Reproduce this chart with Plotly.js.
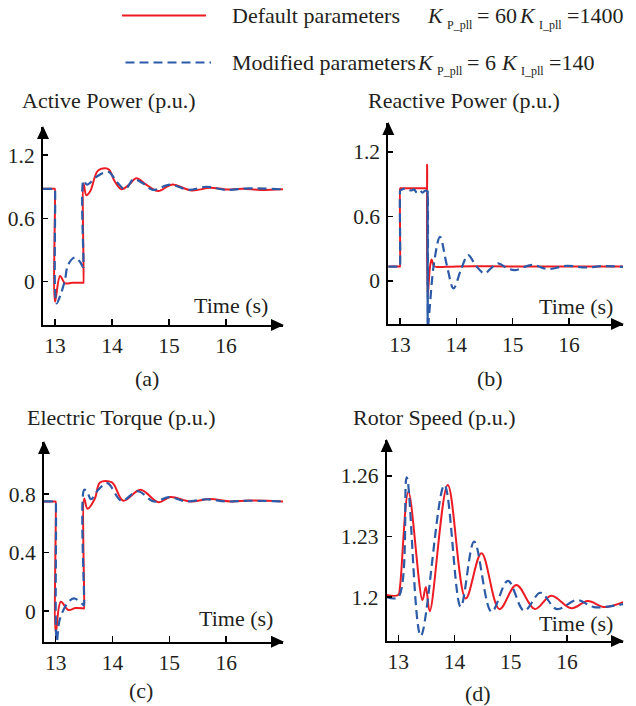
<!DOCTYPE html>
<html>
<head>
<meta charset="utf-8">
<script src="https://cdn.plot.ly/plotly-3.0.1.min.js"></script>
<style>html,body{margin:0;padding:0;background:#fff}#chart{width:636px;height:706px}</style>
</head>
<body>
<div id="chart"></div>
<script>
// ---------- DATA ----------
// (a) Active power
const tA_def = [12.79,12.999,13.0,13.001,13.09,13.175,13.3,13.49,13.499,13.5,13.502,13.55,13.62,13.75,13.88,13.95,14.05,14.17,14.3,14.43,14.6,14.81,15.05,15.4,15.72,16.0,16.3,16.6,17.0];
const pA_def = [0.88,0.88,0.88,-0.19,0.055,-0.015,-0.01,-0.01,-0.01,-0.01,0.93,0.82,0.86,1.05,1.075,1.06,0.95,0.876,0.92,0.98,0.92,0.86,0.92,0.865,0.89,0.875,0.88,0.87,0.877];
const tA_mod = [12.79,12.999,13.0,13.003,13.03,13.1,13.175,13.23,13.35,13.45,13.49,13.499,13.5,13.502,13.56,13.73,13.94,14.08,14.23,14.38,14.55,14.72,15.02,15.35,15.65,16.0,16.4,17.0];
const pA_mod = [0.88,0.88,0.88,-0.1,-0.205,-0.12,0.016,0.16,0.23,0.18,0.14,0.14,0.14,0.96,0.92,0.995,1.04,0.95,0.876,0.97,0.93,0.87,0.92,0.87,0.9,0.87,0.885,0.875];
// (b) Reactive power
const tB_def = [12.79,12.999,13.0,13.001,13.002,13.47,13.479,13.48,13.481,13.49,13.53,13.56,13.6,13.65,14.0,15.0,17.0];
const qB_def = [0.133,0.133,0.133,0.86,0.86,0.86,0.86,0.86,1.08,-0.15,0.12,0.2,0.14,0.13,0.135,0.135,0.135];
// the modified series swings several times between ~0.83 and the bottom at t≈13.49 (drawn as a solid bar in the reference)
const tB_mod = [12.79,12.999,13.0,13.001,13.002,13.1,13.2,13.25,13.3,13.35,13.4,13.45,13.485,13.489,13.49,13.4905,13.491,13.4915,13.492,13.4925,13.493,13.52,13.6,13.71,13.83,13.95,14.08,14.21,14.35,14.5,14.62,14.74,14.9,15.04,15.34,15.63,15.95,16.3,16.6,17.0];
const qB_mod = [0.133,0.133,0.133,0.84,0.84,0.86,0.84,0.85,0.82,0.84,0.82,0.84,0.83,0.83,0.83,-0.45,0.83,-0.45,0.83,-0.45,-0.45,-0.3,0.15,0.41,0.15,-0.07,0.1,0.24,0.14,0.07,0.12,0.164,0.12,0.1,0.15,0.11,0.14,0.125,0.138,0.13];
// (c) Electric torque
const tC_def = [12.79,12.999,13.0,13.001,13.09,13.22,13.35,13.49,13.499,13.5,13.502,13.56,13.69,13.78,13.99,14.19,14.49,14.81,15.02,15.37,15.72,16.08,16.4,17.0];
const eC_def = [0.75,0.75,0.75,-0.15,0.064,0.007,0.02,0.018,0.018,0.018,0.77,0.70,0.77,0.88,0.88,0.755,0.83,0.745,0.78,0.75,0.767,0.75,0.757,0.75];
const tC_mod = [12.79,12.999,13.0,13.003,13.02,13.07,13.2,13.32,13.46,13.49,13.499,13.5,13.502,13.56,13.62,13.75,13.91,14.16,14.44,14.73,15.0,15.3,15.65,16.0,16.4,17.0];
const eC_mod = [0.75,0.75,0.75,-0.1,-0.21,-0.06,0.05,0.087,0.05,0.04,0.04,0.04,0.83,0.81,0.765,0.83,0.875,0.755,0.82,0.75,0.78,0.75,0.765,0.75,0.755,0.75];
// (d) Rotor speed
const tD_def = [12.79,13.0,13.03,13.18,13.43,13.49,13.56,13.88,14.2,14.48,14.8,15.1,15.43,15.72,16.08,16.37,16.67,17.0];
const wD_def = [1.201,1.201,1.205,1.252,1.1985,1.205,1.193,1.2555,1.1993,1.2217,1.194,1.206,1.194,1.2006,1.1944,1.198,1.195,1.1974];
const tD_mod = [12.79,13.0,13.15,13.4,13.82,14.11,14.35,14.66,14.95,15.24,15.53,15.82,16.18,16.48,17.0];
const wD_mod = [1.2,1.2,1.2593,1.1807,1.2555,1.1952,1.2275,1.1927,1.208,1.1932,1.2021,1.194,1.1985,1.195,1.1965];

// tick labels
const xTickVals = [13,14,15,16];
const xTickText = ['13','14','15','16'];
const yTickValsA = [0,0.6,1.2];  const yTickTextA = ['0','0.6','1.2'];
const yTickValsB = [0,0.6,1.2];  const yTickTextB = ['0','0.6','1.2'];
const yTickValsC = [0,0.4,0.8];  const yTickTextC = ['0','0.4','0.8'];
const yTickValsD = [1.2,1.23,1.26]; const yTickTextD = ['1.2','1.23','1.26'];

const panelTitles = ['Active Power (p.u.)','Reactive Power (p.u.)','Electric Torque (p.u.)','Rotor Speed (p.u.)'];
const panelLabels = ['(a)','(b)','(c)','(d)'];
const xTitle = 'Time (s)';
const seriesNames = ['Default parameters','Modified parameters'];
// legend parameter text pieces: [symbol, subscript, value]
const paramDef = [['K','P_pll','= 60'],['K','I_pll','=1400']];
const paramMod = [['K','P_pll','= 6'],['K','I_pll','=140']];

// ---------- STYLE ----------
const W = 636, H = 706;
const FONT = 'Liberation Serif, Times New Roman, serif';
const TXT = '#231f20';
const RED = '#ed1c24', BLUE = '#2b5ba8';
const DASH = '9px,5px';
const px = v => v / W, py = v => 1 - v / H;

const traces = [];
function addPair(tDef, yDef, tMod, yMod, ax) {
  const xa = 'x' + (ax === 1 ? '' : ax), ya = 'y' + (ax === 1 ? '' : ax);
  traces.push({x: tDef, y: yDef, xaxis: xa, yaxis: ya, mode: 'lines', name: seriesNames[0],
    line: {color: RED, width: 2, shape: 'spline', smoothing: 1, simplify: false}, hoverinfo: 'skip'});
  traces.push({x: tMod, y: yMod, xaxis: xa, yaxis: ya, mode: 'lines', name: seriesNames[1],
    line: {color: BLUE, width: 2.2, dash: DASH, shape: 'spline', smoothing: 1, simplify: false}, hoverinfo: 'skip'});
}
addPair(tA_def, pA_def, tA_mod, pA_mod, 1);
addPair(tB_def, qB_def, tB_mod, qB_mod, 2);
addPair(tC_def, eC_def, tC_mod, eC_mod, 3);
addPair(tD_def, wD_def, tD_mod, wD_mod, 4);

const panels = [
  {x0: 43,    x1: 283, yTop: 127, yBot: 325, xr: [12.79, 17.0],  yr: [-0.41, 1.466], tv: yTickValsA, tt: yTickTextA},
  {x0: 388.3, x1: 623, yTop: 123, yBot: 324, xr: [12.792, 16.96], yr: [-0.40, 1.467], tv: yTickValsB, tt: yTickTextB},
  {x0: 44,    x1: 283, yTop: 442, yBot: 641.7, xr: [12.794, 17.0], yr: [-0.21, 1.157], tv: yTickValsC, tt: yTickTextC},
  {x0: 386.7, x1: 623, yTop: 440, yBot: 641, xr: [12.794, 16.998], yr: [1.1782, 1.2778], tv: yTickValsD, tt: yTickTextD}
];

const layout = {
  width: W, height: H, margin: {l: 0, r: 0, t: 0, b: 0},
  paper_bgcolor: '#fff', plot_bgcolor: 'rgba(0,0,0,0)', showlegend: false,
  font: {family: FONT, color: TXT, size: 21},
  annotations: [], shapes: []
};

const AL = 13, AW = 6; // arrowhead length / half width (px)
panels.forEach((p, i) => {
  const n = i + 1, s = n === 1 ? '' : n;
  layout['xaxis' + s] = {
    domain: [px(p.x0), px(p.x1)], range: p.xr, anchor: 'y' + s,
    showline: true, linecolor: '#000', linewidth: 2, showgrid: false, zeroline: false,
    ticks: 'inside', ticklen: 6, tickwidth: 1.5, tickcolor: '#000',
    tickvals: xTickVals, ticktext: xTickText, tickfont: {family: FONT, size: 21.5, color: TXT},
    fixedrange: true
  };
  layout['yaxis' + s] = {
    domain: [py(p.yBot), py(p.yTop)], range: p.yr, anchor: 'x' + s,
    showline: true, linecolor: '#000', linewidth: 2, showgrid: false, zeroline: false,
    ticks: 'inside', ticklen: 5, tickwidth: 1.5, tickcolor: '#000',
    tickvals: p.tv, ticktext: p.tt, tickfont: {family: FONT, size: 21.5, color: TXT},
    ticklabelstandoff: 2, fixedrange: true
  };
  const xr = p.x1, yb = p.yBot, xl = p.x0, yt = p.yTop;
  layout.shapes.push({type: 'path', xref: 'paper', yref: 'paper', fillcolor: '#000', line: {width: 0},
    path: `M${px(xr + 1)},${py(yb)} L${px(xr + 1 - AL)},${py(yb - AW)} L${px(xr + 1 - AL)},${py(yb + AW)} Z`});
  layout.shapes.push({type: 'path', xref: 'paper', yref: 'paper', fillcolor: '#000', line: {width: 0},
    path: `M${px(xl)},${py(yt - 1)} L${px(xl - AW)},${py(yt - 1 + AL)} L${px(xl + AW)},${py(yt - 1 + AL)} Z`});
});

function txt(x, y, text, opts) {
  opts = opts || {};
  layout.annotations.push({xref: 'paper', yref: 'paper', x: px(x), y: py(y),
    xanchor: opts.anchor || 'left', yanchor: 'middle', text: text, showarrow: false,
    borderpad: 0, font: {family: FONT, color: TXT, size: opts.size || 22, style: opts.style || 'normal'}});
}

const titlePos = [[21, 100], [367, 100], [26, 417], [352, 417]];
const timePos = [[269, 305], [614, 306.7], [273.5, 618.3], [614, 623.3]];
const labelPos = [[146.7, 378], [490, 378], [141, 690], [478, 693]];
for (let i = 0; i < 4; i++) {
  txt(titlePos[i][0], titlePos[i][1], panelTitles[i]);
  txt(timePos[i][0], timePos[i][1], xTitle, {anchor: 'right'});
  txt(labelPos[i][0], labelPos[i][1], panelLabels[i], {anchor: 'center'});
}

// legend (drawn manually to match the reference layout)
layout.shapes.push({type: 'line', xref: 'paper', yref: 'paper', x0: px(122), x1: px(206), y0: py(15.5), y1: py(15.5),
  line: {color: RED, width: 2}});
layout.shapes.push({type: 'line', xref: 'paper', yref: 'paper', x0: px(125.5), x1: px(211), y0: py(62.5), y1: py(62.5),
  line: {color: BLUE, width: 2.2, dash: DASH}});
txt(231, 16, seriesNames[0]);
txt(231, 62, seriesNames[1]);
const rowDefX = [[425.5, 446, 476], [517.5, 537.5, 566]];
const rowModX = [[416, 436, 466], [499.5, 519.5, 547.5]];
function paramRow(parts, xs, y) {
  parts.forEach((p, j) => {
    txt(xs[j][0], y, p[0], {style: 'italic'});
    txt(xs[j][1], y + 9, p[1], {size: 12});
    txt(xs[j][2], y, p[2]);
  });
}
paramRow(paramDef, rowDefX, 16);
paramRow(paramMod, rowModX, 62);

Plotly.newPlot('chart', traces, layout, {staticPlot: true, displayModeBar: false});
</script>
</body>
</html>
